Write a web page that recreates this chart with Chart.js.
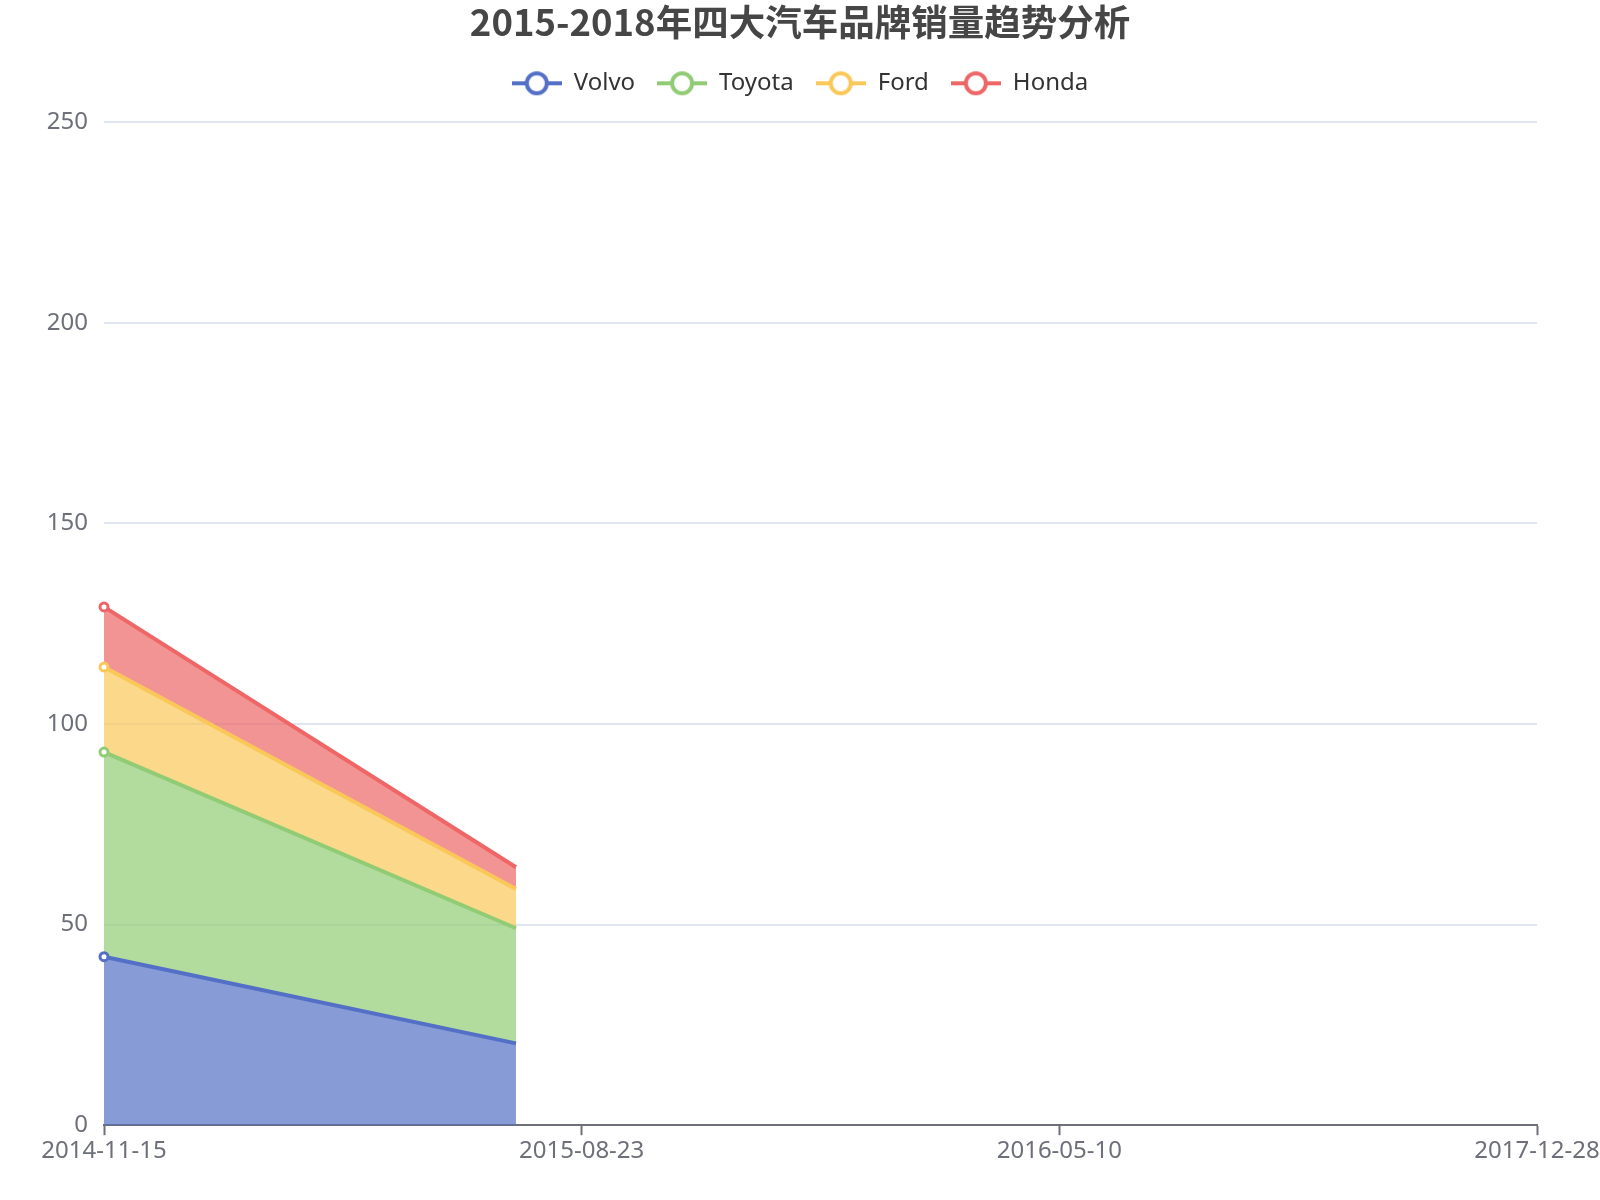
<!DOCTYPE html>
<html>
<head>
<meta charset="utf-8">
<script src="https://cdn.jsdelivr.net/npm/chart.js@4.4.1/dist/chart.umd.min.js"></script>
<style>
  html, body { margin: 0; background: #fff; }
  #wrap { width: 1600px; height: 1200px; }
</style>
</head>
<body>
<div id="wrap"><canvas id="salesChart"></canvas></div>
<script>
// 数据
const xTickLabels = ["2014-11-15", "2015-08-23", "2016-05-10", "2017-12-28"];
const xPositions = [0, 0.8625];
const brands = ["Volvo", "Toyota", "Ford", "Honda"];
const volvo = [42, 20.4];
const toyota = [51, 28.7];
const ford = [21.2, 9.8];
const honda = [15, 5.4];
const yTicks = [0, 50, 100, 150, 200, 250];

const colors = ["#5470c6", "#91cc75", "#fac858", "#ee6666"];
const fills = ["rgba(84,112,198,0.7)", "rgba(145,204,117,0.7)", "rgba(250,200,88,0.7)", "rgba(238,102,102,0.7)"];
const series = [volvo, toyota, ford, honda];

// 图例图标：线 + 空心圆
function legendIcon(color) {
  const c = document.createElement("canvas");
  c.width = 50;
  c.height = 28;
  const g = c.getContext("2d");
  g.strokeStyle = color;
  g.lineWidth = 4;
  g.beginPath();
  g.moveTo(0, 14);
  g.lineTo(50, 14);
  g.stroke();
  g.beginPath();
  g.arc(25, 14, 10, 0, Math.PI * 2);
  g.fillStyle = "#fff";
  g.fill();
  g.stroke();
  return c;
}
const icons = colors.map(legendIcon);

const datasets = series.map((vals, i) => ({
  label: brands[i],
  data: vals.map((v, j) => ({ x: xPositions[j], y: v })),
  borderColor: colors[i],
  backgroundColor: fills[i],
  borderWidth: 4,
  fill: i === 0 ? "origin" : "-1",
  tension: 0,
  clip: false,
  pointRadius: (ctx) => (ctx.dataIndex === 0 ? 4 : 0),
  pointBorderWidth: 3,
  pointBackgroundColor: "#fff",
  pointBorderColor: colors[i],
  pointStyle: "circle",
}));

// 图例下方留白
const legendGap = {
  id: "legendGap",
  afterInit(chart) {
    const legend = chart.legend;
    const fit = legend.fit;
    legend.fit = function () {
      fit.call(this);
      this.height += 17;
    };
  },
};

const ctx = document.getElementById("salesChart").getContext("2d");
const salesChart = new Chart(ctx, {
  type: "line",
  data: { datasets: datasets },
  plugins: [legendGap],
  options: {
    responsive: true,
    maintainAspectRatio: false,
    animation: false,
    layout: { padding: { top: 0, left: 0, right: 0, bottom: 32 } },
    plugins: {
      title: {
        display: true,
        text: "2015-2018年四大汽车品牌销量趋势分析",
        color: "#464646",
        font: { family: "'Noto Sans CJK SC', 'Noto Sans'", size: 36.5, weight: "bold" },
        padding: { top: 0, bottom: 5.5 },
      },
      legend: {
        labels: {
          usePointStyle: true,
          pointStyleWidth: 50,
          padding: 22,
          color: "#333",
          font: { family: "'Noto Sans', 'Noto Sans CJK SC'", size: 24 },
          generateLabels: (chart) =>
            chart.data.datasets.map((ds, i) => ({
              text: ds.label,
              pointStyle: icons[i],
              fillStyle: colors[i],
              strokeStyle: colors[i],
              lineWidth: 0,
              hidden: false,
              datasetIndex: i,
              fontColor: "#333",
            })),
        },
      },
      tooltip: { enabled: false },
    },
    scales: {
      x: {
        type: "linear",
        min: 0,
        max: xTickLabels.length - 1,
        afterBuildTicks: (scale) => {
          scale.ticks = xTickLabels.map((_, i) => ({ value: i }));
        },
        afterFit: (scale) => {
          scale.paddingLeft = 0;
          scale.paddingRight = 63;
        },
        ticks: {
          callback: (value) => xTickLabels[value],
          color: "#6E7079",
          font: { family: "'Noto Sans'", size: 24 },
          padding: 2,
          maxRotation: 0,
          autoSkip: false,
        },
        grid: {
          drawOnChartArea: false,
          drawTicks: true,
          tickLength: 10,
          tickWidth: 2,
          tickColor: "#6E7079",
        },
        border: { color: "#6E7079", width: 2 },
      },
      y: {
        stacked: true,
        min: 0,
        max: 250,
        afterBuildTicks: (scale) => {
          scale.ticks = yTicks.map((v) => ({ value: v }));
        },
        afterFit: (scale) => {
          scale.width = 104;
        },
        ticks: {
          color: "#6E7079",
          font: { family: "'Noto Sans'", size: 24 },
          padding: 16,
        },
        grid: {
          color: "#e0e6f1",
          lineWidth: 2,
          drawTicks: false,
        },
        border: { display: false },
      },
    },
  },
});
</script>
</body>
</html>
